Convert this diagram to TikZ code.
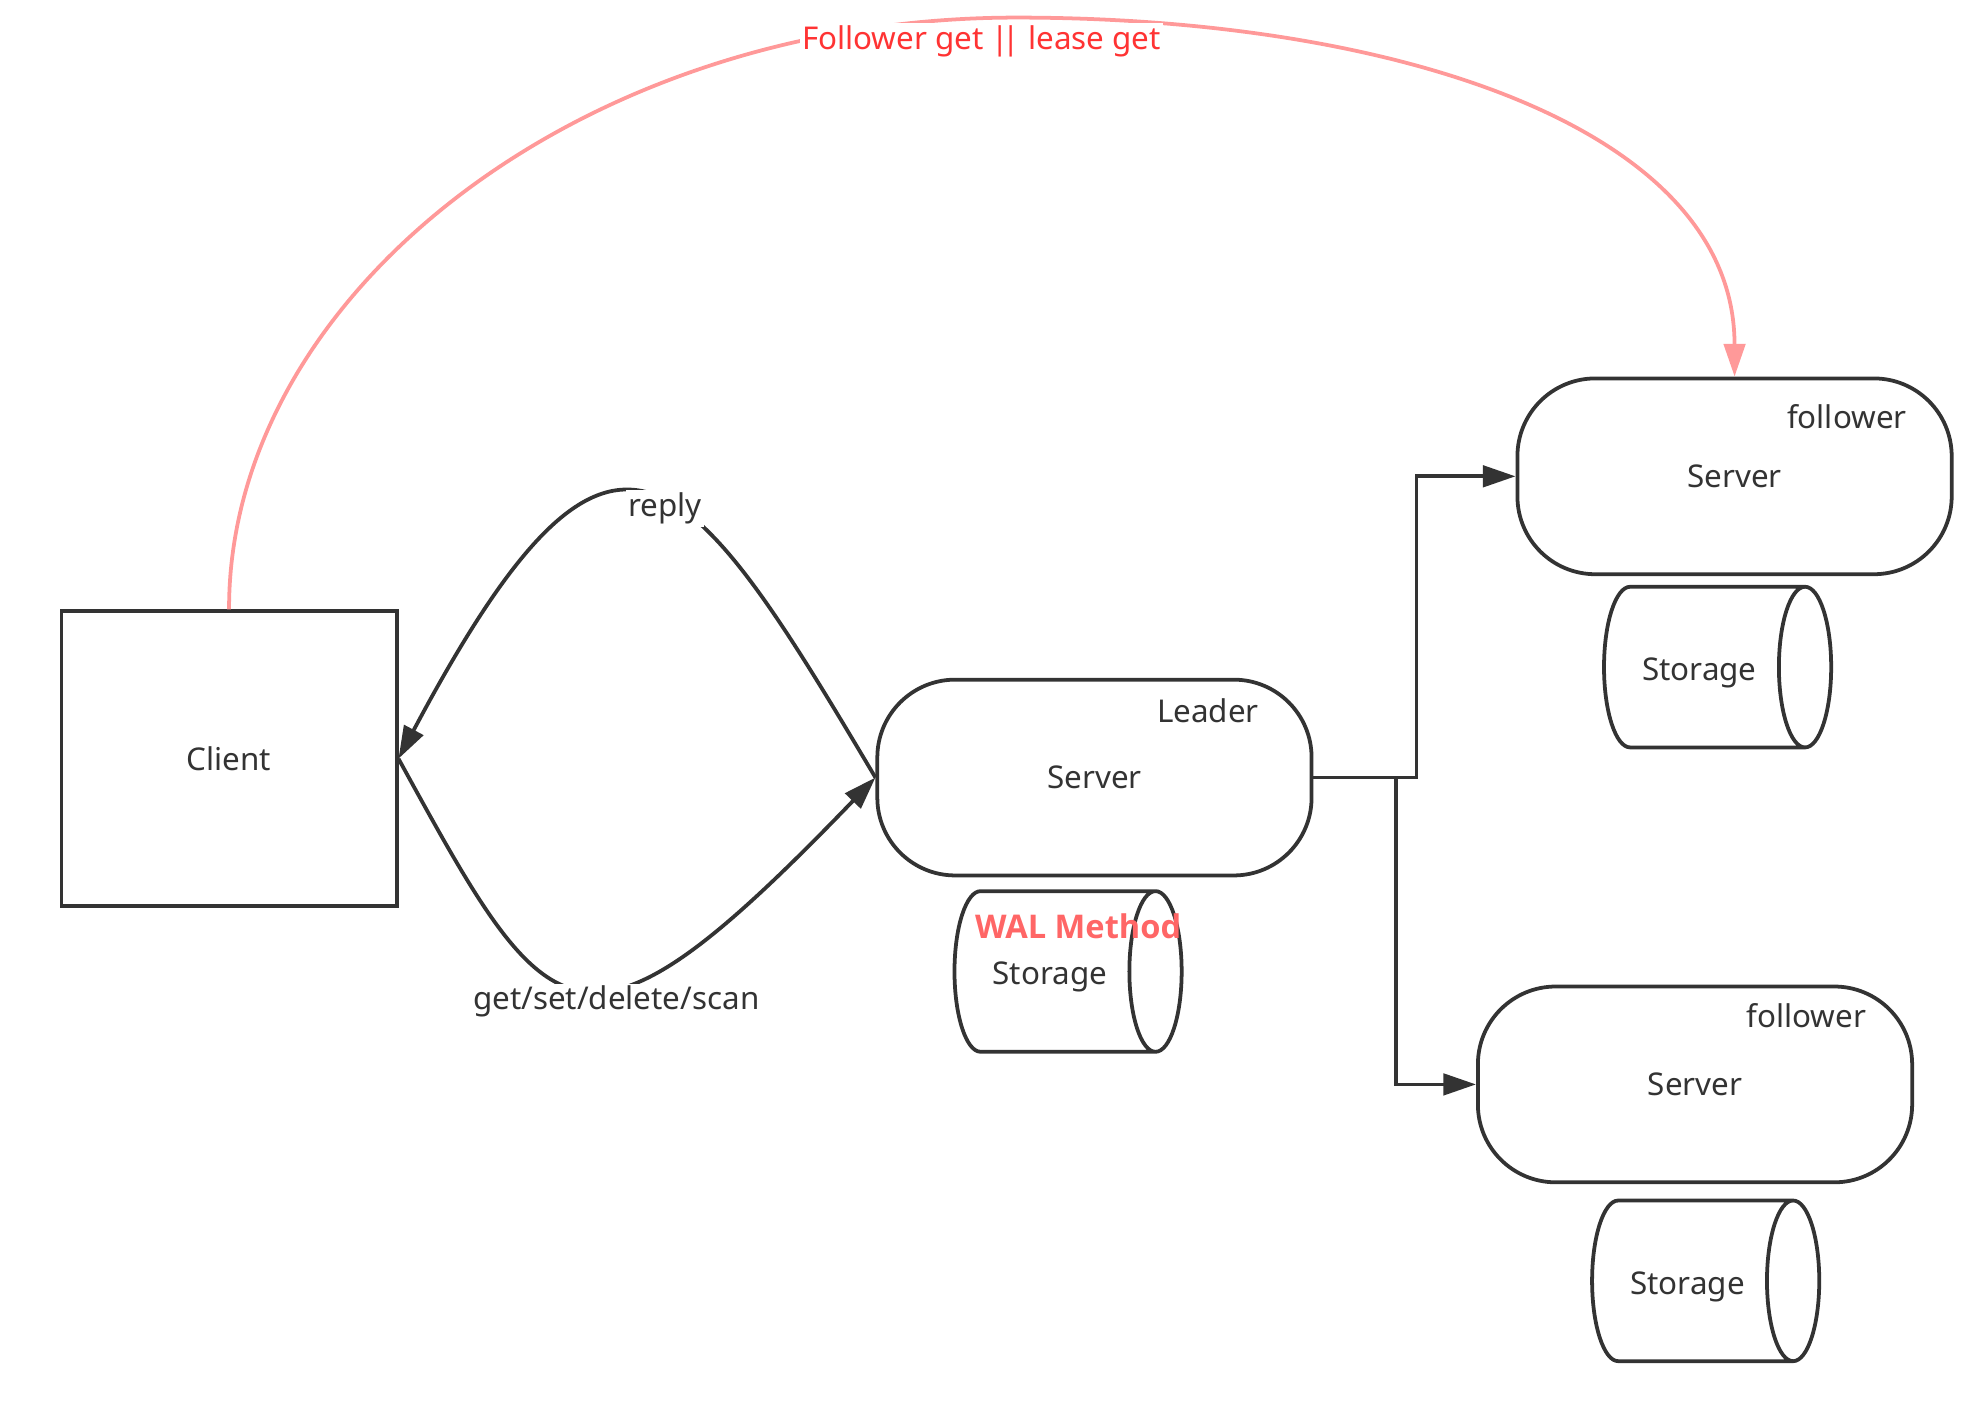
\documentclass[tikz,border=0pt]{standalone}
\usepackage{fontspec}
\setmainfont{Noto Sans}
\newfontfamily\walfont{Open Sans}
\usetikzlibrary{arrows.meta,positioning,calc,shapes.geometric}
\definecolor{ink}{HTML}{333333}
\definecolor{pinkline}{HTML}{FF9999}
\definecolor{redtext}{HTML}{FF3333}
\definecolor{walred}{HTML}{FF6666}

\begin{document}
\begin{tikzpicture}[x=1pt,y=-1pt,
  font=\fontsize{25}{30}\selectfont, text=ink,
  box/.style={draw=ink,line width=3pt,minimum width=267pt,minimum height=235pt},
  server/.style={draw=ink,line width=3pt,rounded corners=62pt,minimum width=346pt,minimum height=156pt},
  storage/.style={cylinder,draw=ink,line width=3pt,aspect=1.0,text height=28pt,text depth=7pt,
    minimum width=128pt,minimum height=181pt},
  tag/.style={inner sep=0pt},
  link/.style={draw=ink,line width=3pt,-{Triangle[length=26pt,width=17pt]}},
  lbl/.style={fill=white,inner sep=2pt}]
\useasboundingbox (0,0) rectangle (1568,1122);
\node[box] (client) at (182.5,604.5) {Client};
\node[server] (leader) at (872,619.5) {Server};
\node[server] (f1) at (1382,379.5) {Server};
\node[server] (f2) at (1350.5,864) {Server};
\node[tag] (leadertag) at ($(leader.north east)+(-84,26)$) {Leader};
\node[tag] (f1tag) at ($(f1.north east)+(-85,32)$) {follower};
\node[tag] (f2tag) at ($(f2.north east)+(-86,25)$) {follower};
\node[storage] (leaderdb) at (836.5,774) {Storage};
\node[storage] (f1db) at (1354,531.5) {Storage};
\node[storage] (f2db) at (1344.5,1020.5) {Storage};
\node[font=\walfont\fontsize{26}{31}\selectfont\bfseries,text=walred] (wal) at (859,738) {WAL Method};
\draw[link] (client.east) .. controls (438.6,825.2) and (460.4,865.8) .. (leader.west)
  node[lbl,pos=.5,xshift=27pt,yshift=-11pt] {get/set/delete/scan};
\draw[link] (leader.west) .. controls (545.9,364.2) and (489.1,281.6) .. (client.east)
  node[lbl,pos=.47,xshift=5pt,yshift=-7pt] {reply};
\draw[link] (leader.east) -- ++(82,0) |- (f1.west);
\draw[link] (leader.east) -- ++(66,0) |- (f2.west);
\draw[link,draw=pinkline] (client.north) .. controls (182,237) and (460,14) .. (810,14)
  node[lbl,text=redtext,xshift=-28pt,yshift=-19pt] {Follower get |\kern-5pt| lease get}
  .. controls (1110,14) and (1382,101) .. (f1.north);
\end{tikzpicture}
\end{document}
